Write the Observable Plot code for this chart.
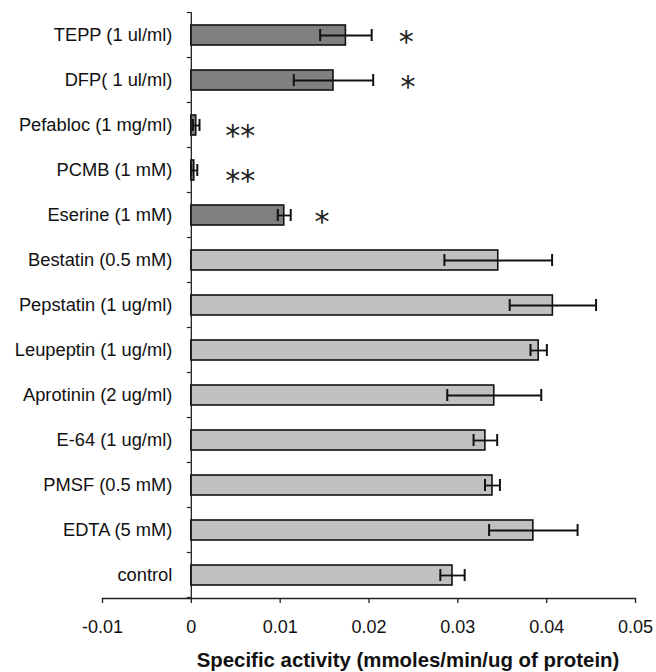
<!DOCTYPE html>
<html><head><meta charset="utf-8">
<script src="https://cdn.jsdelivr.net/npm/d3@7"></script>
<script src="https://cdn.jsdelivr.net/npm/@observablehq/plot@0.6"></script>
<style>body{margin:0;background:#fff} svg{display:block;background:#fff}</style>
</head><body><div id="chart"></div>
<script>
const categories = ["TEPP (1 ul/ml)", "DFP( 1 ul/ml)", "Pefabloc (1 mg/ml)", "PCMB (1 mM)", "Eserine (1 mM)", "Bestatin (0.5 mM)", "Pepstatin (1 ug/ml)", "Leupeptin (1 ug/ml)", "Aprotinin (2 ug/ml)", "E-64 (1 ug/ml)", "PMSF (0.5 mM)", "EDTA (5 mM)", "control"];
const activity = [0.0174, 0.0160, 0.00055, 0.00033, 0.01046, 0.03455, 0.0407, 0.0391, 0.0341, 0.0331, 0.0339, 0.0385, 0.0294];
const stdError = [0.0029, 0.00447, 0.00037, 0.00034, 0.00073, 0.00606, 0.00486, 0.00092, 0.00529, 0.00133, 0.00084, 0.00498, 0.00137];
const groups = ["inhibited", "inhibited", "inhibited", "inhibited", "inhibited", "other", "other", "other", "other", "other", "other", "other", "other"];
const significance = ["*", "*", "**", "**", "*", "", "", "", "", "", "", "", ""];
const significanceX = [0.0242, 0.0244, 0.0055, 0.0055, 0.0147, null, null, null, null, null, null, null, null];
const xTicks = [-0.01, 0, 0.01, 0.02, 0.03, 0.04, 0.05];
const xTickLabels = ["-0.01", "0", "0.01", "0.02", "0.03", "0.04", "0.05"];
const xTitle = "Specific activity (mmoles/min/ug of protein)";

const data = categories.map((name, i) => ({
  name, value: activity[i], err: stdError[i], group: groups[i],
  sig: significance[i], sx: significanceX[i]
}));
const sigSingle = data.filter(d => d.sig === "*");
const sigDouble = data.filter(d => d.sig === "**");

function boundaryTicks(index, scales) {
  const y = scales.y, x = scales.x;
  const bw = typeof y.bandwidth === "function" ? y.bandwidth() : y.bandwidth;
  const ys = categories.map(c => y(c));
  const step = ys[1] - ys[0];
  const pad = (step - bw) / 2;
  const bounds = ys.map(v => v - pad);
  bounds.push(ys[ys.length - 1] + bw + pad);
  const x0 = x(0);
  const g = d3.create("svg:g");
  for (const b of bounds) {
    g.append("line").attr("x1", x0 - 4).attr("x2", x0).attr("y1", b).attr("y2", b)
      .attr("stroke", "#222").attr("stroke-width", 1.2);
  }
  return g.node();
}

const chart = Plot.plot({
  width: 656,
  height: 672,
  marginLeft: 102,
  marginRight: 21,
  marginTop: 12,
  marginBottom: 74,
  style: {fontFamily: "'Liberation Sans', Arial, sans-serif", fontSize: "18px", color: "#111", background: "#fff"},
  x: {domain: [-0.01, 0.05]},
  y: {domain: categories, paddingInner: 0.56, paddingOuter: 0.28},
  color: {domain: ["inhibited", "other"], range: ["#808080", "#c0c0c0"]},
  marks: [
    Plot.frame({anchor: "bottom", stroke: "#222", strokeWidth: 1.3}),
    Plot.axisX({ticks: xTicks, tickFormat: d => xTickLabels[xTicks.indexOf(d)], tickSize: 5, tickPadding: 17, fontSize: 18, label: null, stroke: "#222", strokeWidth: 1.3}),
    Plot.axisY({ticks: [], label: null, tickSize: 0}),
    Plot.barX(data, {x: "value", y: "name", fill: "group", stroke: "#111", strokeWidth: 1.6}),
    Plot.ruleX([0], {stroke: "#222", strokeWidth: 1.3}),
    boundaryTicks,
    Plot.ruleY(data, {y: "name", x1: d => d.value - d.err, x2: d => d.value + d.err, stroke: "#111", strokeWidth: 1.8}),
    Plot.tickX(data, {x: d => d.value - d.err, y: "name", stroke: "#111", strokeWidth: 2, insetTop: 4, insetBottom: 4}),
    Plot.tickX(data, {x: d => d.value + d.err, y: "name", stroke: "#111", strokeWidth: 2, insetTop: 4, insetBottom: 4}),
    Plot.text(data, {x: () => 0, y: "name", text: "name", textAnchor: "end", dx: -19, fontSize: 18.3, fill: "#111"}),
    Plot.text(sigSingle, {x: "sx", y: "name", text: "sig", fontSize: 30, fontFamily: "'DejaVu Sans'", dy: 6.5, fill: "#222"}),
    Plot.text(sigDouble, {x: "sx", y: "name", text: "sig", fontSize: 30, fontFamily: "'DejaVu Sans'", dy: 11, fill: "#222"}),
    Plot.text([xTitle], {frameAnchor: "bottom", text: d => d, dy: 68, dx: 39, fontSize: 20.4, fontWeight: "bold", fill: "#111"})
  ]
});
document.getElementById("chart").append(chart);
</script>
</body></html>
